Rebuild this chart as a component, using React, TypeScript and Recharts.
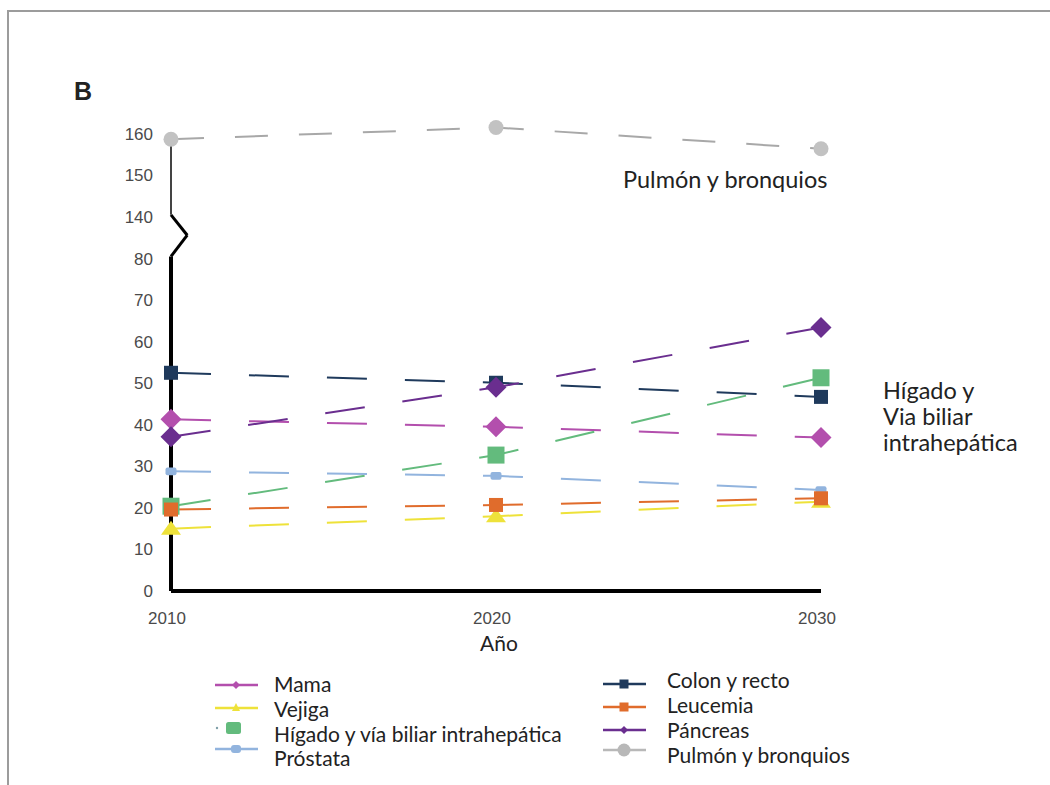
import React from 'react'
import { LineChart, Line, XAxis, YAxis, ReferenceLine } from 'recharts'

// years on the x axis
const years = [2010, 2020, 2030]

// one value per year for every series
const mama = [41.3, 39.5, 36.9]
const vejiga = [15, 18, 21.5]
const higado = [20.4, 32.7, 51.3]
const prostata = [28.8, 27.7, 24.3]
const colon = [52.5, 50.1, 46.7]
const leucemia = [19.6, 20.7, 22.3]
const pancreas = [37.1, 49, 63.4]
const pulmon = [158.7, 161.5, 156.4]

// tick labels of the broken y axis
const yTickLabels = [0, 10, 20, 30, 40, 50, 60, 70, 80, 140, 150, 160]

// values from 140 up sit right above 80 (axis break)
const BREAK_FROM = 140
const BREAK_SHIFT = 50
const toScale = (v: number) => (v >= BREAK_FROM ? v - BREAK_SHIFT : v)
const fromScale = (v: number) => (v > 80 ? v + BREAK_SHIFT : v)

const rows = years.map((year, i) => ({
  year,
  mama: toScale(mama[i]),
  vejiga: toScale(vejiga[i]),
  higado: toScale(higado[i]),
  prostata: toScale(prostata[i]),
  colon: toScale(colon[i]),
  leucemia: toScale(leucemia[i]),
  pancreas: toScale(pancreas[i]),
  pulmon: toScale(pulmon[i]),
}))

const C = {
  mama: '#b34fad',
  vejiga: '#eee23a',
  higado: '#63bb7d',
  prostata: '#92b4de',
  colon: '#1f3a5c',
  leucemia: '#e06c2c',
  pancreas: '#6a2e8f',
  pulmon: '#b8b8b8',
}

type Shape = 'diamond' | 'square' | 'triangle' | 'pill' | 'circle'

function marker(shape: Shape, color: string, size: number) {
  return (props: any) => {
    const { cx, cy, index } = props
    const k = `m-${index}`
    if (cx == null || cy == null) return <g key={k} />
    if (shape === 'diamond')
      return (
        <polygon
          key={k}
          points={`${cx},${cy - size} ${cx + size},${cy} ${cx},${cy + size} ${cx - size},${cy}`}
          fill={color}
        />
      )
    if (shape === 'square')
      return <rect key={k} x={cx - size} y={cy - size} width={size * 2} height={size * 2} fill={color} />
    if (shape === 'triangle')
      return (
        <polygon
          key={k}
          points={`${cx},${cy - size * 0.8} ${cx + size},${cy + size * 0.6} ${cx - size},${cy + size * 0.6}`}
          fill={color}
        />
      )
    if (shape === 'pill')
      return <rect key={k} x={cx - size} y={cy - size * 0.7} width={size * 2} height={size * 1.4} rx={2} fill={color} />
    return <circle key={k} cx={cx} cy={cy} r={size} fill={color} />
  }
}

const series = [
  { key: 'mama', shape: 'diamond' as Shape, size: 10.5 },
  { key: 'vejiga', shape: 'triangle' as Shape, size: 10 },
  { key: 'higado', shape: 'square' as Shape, size: 8.5 },
  { key: 'prostata', shape: 'pill' as Shape, size: 5.5 },
  { key: 'colon', shape: 'square' as Shape, size: 7 },
  { key: 'leucemia', shape: 'square' as Shape, size: 7 },
  { key: 'pancreas', shape: 'diamond' as Shape, size: 10.5 },
]

const legendLeft = [
  { name: 'Mama', color: C.mama, icon: 'diamond', iy: 685, ty: 692 },
  { name: 'Vejiga', color: C.vejiga, icon: 'star', iy: 708, ty: 717 },
  { name: 'Hígado y vía biliar intrahepática', color: C.higado, icon: 'box', iy: 728, ty: 742 },
  { name: 'Próstata', color: C.prostata, icon: 'pill', iy: 749, ty: 766 },
]
const legendRight = [
  { name: 'Colon y recto', color: C.colon, icon: 'square', iy: 684, ty: 688 },
  { name: 'Leucemia', color: C.leucemia, icon: 'square', iy: 707, ty: 713 },
  { name: 'Páncreas', color: C.pancreas, icon: 'diamond', iy: 730, ty: 738 },
  { name: 'Pulmón y bronquios', color: C.pulmon, icon: 'circle', iy: 750, ty: 763 },
]

function LegendIcon({ x, y, color, icon }: any) {
  const mid = x + 21
  if (icon === 'box')
    return (
      <g>
        <circle cx={x + 2} cy={y} r={1.2} fill="#7f9fa8" />
        <rect x={mid - 10} y={y - 6} width={15} height={12} rx={2.5} fill={color} />
      </g>
    )
  let m: any = null
  if (icon === 'diamond') m = <polygon points={`${mid},${y - 4} ${mid + 4},${y} ${mid},${y + 4} ${mid - 4},${y}`} fill={color} />
  if (icon === 'star') m = <polygon points={`${mid},${y - 5} ${mid + 4},${y + 3} ${mid - 4},${y + 3}`} fill={color} />
  if (icon === 'pill') m = <rect x={mid - 5} y={y - 4} width={10} height={8} rx={3} fill={color} />
  if (icon === 'square') m = <rect x={mid - 4.5} y={y - 4.5} width={9} height={9} fill={color} />
  if (icon === 'circle') m = <circle cx={mid} cy={y} r={6.5} fill={color} />
  return (
    <g>
      <line x1={x} y1={y} x2={x + 43} y2={y} stroke={color} strokeWidth={2.5} />
      {m}
    </g>
  )
}

const textFont = 'Lato, "Open Sans", sans-serif'

export default function App() {
  return (
    <div style={{ position: 'absolute', left: 0, top: 0, width: 1050, height: 785, overflow: 'hidden', background: '#fff' }}>
      <div
        style={{
          position: 'absolute',
          left: 7,
          top: 10,
          width: 1100,
          height: 800,
          borderTop: '2px solid #9c9c9c',
          borderLeft: '2px solid #9c9c9c',
        }}
      />
      <LineChart
        width={1050}
        height={785}
        data={rows}
        margin={{ top: 113, right: 229, bottom: 154, left: 111 }}
        style={{ position: 'absolute', left: 0, top: 0 }}
      >
        <XAxis
          dataKey="year"
          type="number"
          domain={[2010, 2030]}
          ticks={years}
          axisLine={{ stroke: '#000', strokeWidth: 4 }}
          tickLine={false}
          tickMargin={15}
          height={40}
          tick={{ fill: '#4a4a4a', fontSize: 17, fontFamily: '"Liberation Sans", Arial, sans-serif', dx: -4 }}
        />
        <YAxis
          type="number"
          domain={[0, 115]}
          ticks={yTickLabels.map(toScale)}
          tickFormatter={(v: number) => String(fromScale(v))}
          axisLine={false}
          tickLine={false}
          tickMargin={12}
          width={60}
          interval={0}
          tick={{ fill: '#4a4a4a', fontSize: 17, fontFamily: '"Liberation Sans", Arial, sans-serif' }}
        />
        <ReferenceLine segment={[{ x: 2010, y: 0 }, { x: 2010, y: 80.5 }]} stroke="#000" strokeWidth={4} ifOverflow="visible" />
        <ReferenceLine segment={[{ x: 2010, y: 80.5 }, { x: 2010.5, y: 85.6 }]} stroke="#000" strokeWidth={3} ifOverflow="visible" />
        <ReferenceLine segment={[{ x: 2010.5, y: 85.6 }, { x: 2010, y: 90.5 }]} stroke="#000" strokeWidth={3} ifOverflow="visible" />
        <ReferenceLine segment={[{ x: 2010, y: 90.5 }, { x: 2010, y: toScale(pulmon[0]) }]} stroke="#444" strokeWidth={2} ifOverflow="visible" />
        {series.map((s) => (
          <Line
            key={s.key}
            dataKey={s.key}
            type="linear"
            stroke={(C as any)[s.key]}
            strokeWidth={2}
            strokeDasharray="40 38"
            dot={marker(s.shape, (C as any)[s.key], s.size)}
            activeDot={false}
            isAnimationActive={false}
          />
        ))}
        <Line
          dataKey="pulmon"
          type="linear"
          stroke="#a8a8a8"
          strokeWidth={2}
          strokeDasharray="33 31"
          dot={marker('circle', '#c2c2c2', 7.5)}
          activeDot={false}
          isAnimationActive={false}
        />
      </LineChart>
      <svg width={1050} height={785} style={{ position: 'absolute', left: 0, top: 0, pointerEvents: 'none' }}>
        <text x={74} y={100} fontFamily='"Liberation Sans", Arial, sans-serif' fontWeight="bold" fontSize={25} fill="#222">
          B
        </text>
        <text x={623} y={188} fontFamily={textFont} fontSize={23.5} fill="#222">
          Pulmón y bronquios
        </text>
        <text x={883} y={399} fontFamily={textFont} fontSize={23.5} fill="#222">
          Hígado y
        </text>
        <text x={883} y={425} fontFamily={textFont} fontSize={23.5} fill="#222">
          Via biliar
        </text>
        <text x={883} y={451} fontFamily={textFont} fontSize={23.5} fill="#222">
          intrahepática
        </text>
        <text x={480} y={651} fontFamily={textFont} fontSize={21} fill="#222">
          Año
        </text>
        {legendLeft.map((l) => (
          <g key={l.name}>
            <LegendIcon x={215} y={l.iy} color={l.color} icon={l.icon} />
            <text x={274} y={l.ty} fontFamily={textFont} fontSize={21} fill="#222">
              {l.name}
            </text>
          </g>
        ))}
        {legendRight.map((l) => (
          <g key={l.name}>
            <LegendIcon x={603} y={l.iy} color={l.color} icon={l.icon} />
            <text x={667} y={l.ty} fontFamily={textFont} fontSize={21} fill="#222">
              {l.name}
            </text>
          </g>
        ))}
      </svg>
    </div>
  )
}
